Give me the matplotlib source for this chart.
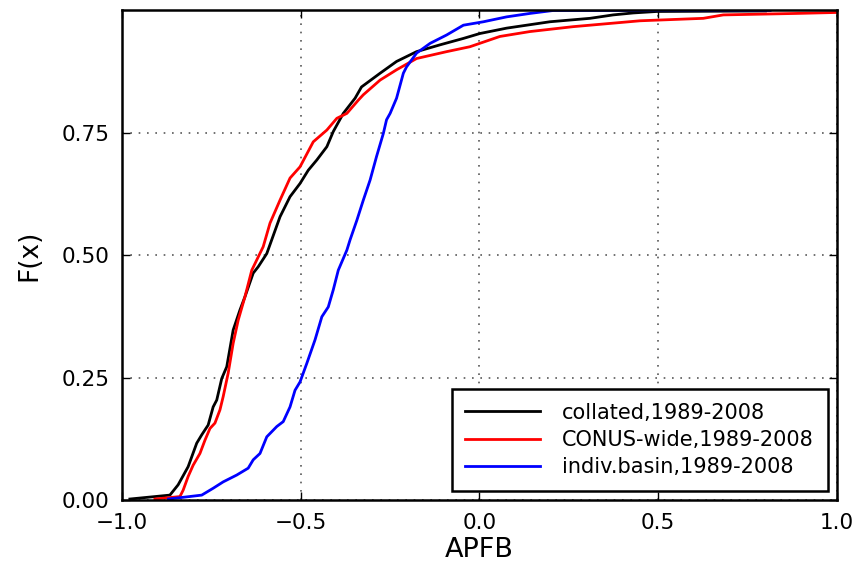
"""
Empirical CDF of APFB for the three calibration approaches, 1989-2008
"""

import matplotlib
matplotlib.use('Agg')
import matplotlib.pyplot as plt

#---------------------------------------------------------------------------------------------------
# Data
#---------------------------------------------------------------------------------------------------

collated_x = [-0.978, -0.866, -0.843, -0.815, -0.791, -0.777, -0.759, -0.745, -0.735, -0.721,
              -0.707, -0.689, -0.670, -0.656, -0.633, -0.619, -0.595, -0.558, -0.530, -0.502,
              -0.479, -0.455, -0.427, -0.409, -0.381, -0.348, -0.330, -0.278, -0.232, -0.176,
              -0.110, -0.045, 0.001, 0.076, 0.197, 0.309, 0.374, 0.430, 0.496, 0.800]
collated_F = [0.002, 0.010, 0.031, 0.068, 0.116, 0.133, 0.153, 0.190, 0.204, 0.248,
              0.272, 0.347, 0.388, 0.415, 0.463, 0.476, 0.503, 0.578, 0.619, 0.646,
              0.673, 0.694, 0.721, 0.752, 0.789, 0.820, 0.843, 0.871, 0.895, 0.915,
              0.929, 0.942, 0.952, 0.963, 0.976, 0.983, 0.990, 0.994, 0.997, 0.998]

conus_x = [-0.908, -0.838, -0.829, -0.815, -0.801, -0.782, -0.768, -0.754, -0.740, -0.726,
           -0.717, -0.703, -0.689, -0.675, -0.656, -0.637, -0.623, -0.605, -0.586, -0.558,
           -0.530, -0.502, -0.465, -0.427, -0.399, -0.371, -0.339, -0.325, -0.278, -0.232,
           -0.176, -0.092, -0.027, 0.001, 0.057, 0.141, 0.262, 0.449, 0.626, 0.682,
           0.887, 1.000]
conus_F = [0.002, 0.007, 0.020, 0.048, 0.071, 0.095, 0.122, 0.146, 0.157, 0.184,
           0.211, 0.259, 0.320, 0.367, 0.415, 0.469, 0.490, 0.517, 0.565, 0.612,
           0.657, 0.680, 0.731, 0.755, 0.779, 0.789, 0.816, 0.827, 0.857, 0.878,
           0.901, 0.915, 0.925, 0.932, 0.946, 0.956, 0.966, 0.978, 0.983, 0.990,
           0.993, 0.995]

basin_x = [-0.870, -0.777, -0.745, -0.717, -0.679, -0.647, -0.633, -0.614, -0.595, -0.567,
           -0.549, -0.530, -0.516, -0.502, -0.483, -0.460, -0.441, -0.423, -0.409, -0.395,
           -0.371, -0.362, -0.343, -0.325, -0.306, -0.288, -0.269, -0.260, -0.250, -0.232,
           -0.213, -0.204, -0.176, -0.138, -0.092, -0.045, 0.011, 0.076, 0.141, 0.206,
           0.813]
basin_F = [0.002, 0.010, 0.024, 0.037, 0.051, 0.065, 0.082, 0.095, 0.129, 0.150,
           0.160, 0.190, 0.224, 0.241, 0.279, 0.327, 0.374, 0.394, 0.429, 0.469,
           0.510, 0.531, 0.571, 0.612, 0.653, 0.701, 0.748, 0.776, 0.789, 0.820,
           0.871, 0.884, 0.912, 0.932, 0.949, 0.969, 0.976, 0.986, 0.993, 0.999,
           0.999]

series = [('collated,1989-2008', collated_x, collated_F, 'k'),
          ('CONUS-wide,1989-2008', conus_x, conus_F, 'r'),
          ('indiv.basin,1989-2008', basin_x, basin_F, 'b')]

x_ticks = [-1.0, -0.5, 0.0, 0.5, 1.0]
y_ticks = [0.0, 0.25, 0.5, 0.75]
y_tick_labels = ['0.00', '0.25', '0.50', '0.75']

#---------------------------------------------------------------------------------------------------
# Make plot
#---------------------------------------------------------------------------------------------------

fig = plt.figure(figsize=(8.58, 5.62), dpi=100)
fig.patch.set_facecolor('white')
ax = fig.add_axes([0.1422, 0.1103, 0.8333, 0.8719])

for label, xs, Fs, c in series:
    ax.plot(xs, Fs, '-', c=c, lw=2.0, label=label)

ax.set_xlim(-1.0, 1.0)
ax.set_ylim(0.0, 1.0)
ax.set_xticks(x_ticks)
ax.set_yticks(y_ticks)
ax.set_yticklabels(y_tick_labels)
ax.tick_params(direction='in', length=6, width=1, labelsize=15.5, top=True, right=True, pad=9)
ax.grid(True, color='0.35', linestyle=(0, (1, 4)), linewidth=1.2)
for sp in ax.spines.values():
    sp.set_linewidth(1.8)

ax.set_xlabel('APFB', size=19.5, labelpad=3)
ax.set_ylabel('F(x)', size=19, labelpad=14)

leg = ax.legend(loc='lower right', fontsize=15, handlelength=3.6, fancybox=False,
                framealpha=1, borderaxespad=0.45, borderpad=0.65, labelspacing=0.35,
                handletextpad=1.05)
leg.get_frame().set_edgecolor('k')
leg.get_frame().set_linewidth(1.8)

plt.savefig('out.png', dpi=100)
